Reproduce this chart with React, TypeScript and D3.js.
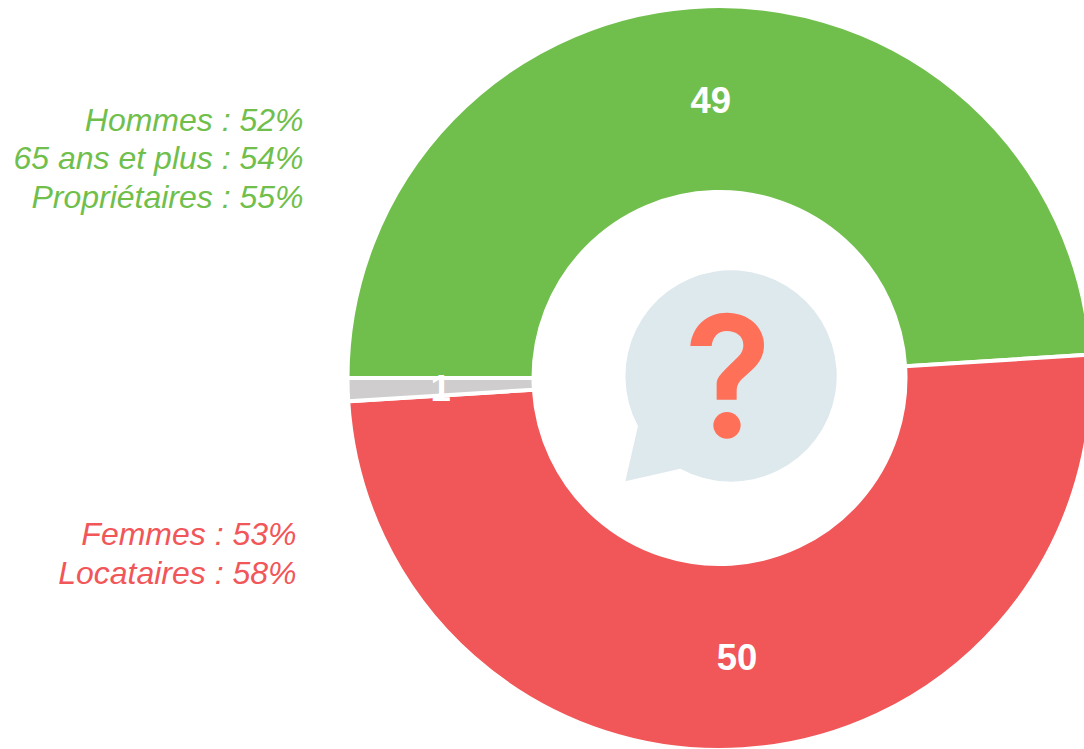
import React from "react";
import * as d3 from "d3";

const categories = ["Oui", "Non", "NSP"];
const seriesValues = [49, 50, 1];
const sliceColors = ["#70BF4C", "#F15658", "#CFCDCE"];
const greenNotes = ["Hommes : 52%", "65 ans et plus : 54%", "Propriétaires : 55%"];
const redNotes = ["Femmes : 53%", "Locataires : 58%"];

const cx = 719.5;
const cy = 378;
const outer = 372;
const inner = 186;
const labelRadius = 279;
const font = "'Liberation Sans', Arial, sans-serif";

export default function App() {
  const pie = d3
    .pie<number>()
    .sort(null)
    .startAngle(-Math.PI / 2)
    .endAngle((3 * Math.PI) / 2);
  const arc = d3.arc<d3.PieArcDatum<number>>().innerRadius(inner).outerRadius(outer);
  const labelArc = d3.arc<d3.PieArcDatum<number>>().innerRadius(labelRadius).outerRadius(labelRadius);
  const arcs = pie(seriesValues);
  return (
    <svg
      width={1084}
      height={749}
      style={{ position: "absolute", left: 0, top: 0, display: "block" }}
      fontFamily={font}
    >
      <g transform={`translate(${cx},${cy})`}>
        {arcs.map((a, i) => (
          <path key={categories[i]} d={arc(a) || ""} fill={sliceColors[i]} stroke="#fff" strokeWidth={4} />
        ))}
        {arcs.map((a, i) => {
          const [x, y] = labelArc.centroid(a);
          return (
            <text
              key={categories[i]}
              x={x}
              y={y + 1}
              dy="0.35em"
              textAnchor="middle"
              fill="#fff"
              fontWeight="bold"
              fontSize={36.5}
            >
              {a.value}
            </text>
          );
        })}
      </g>
      <g transform="translate(600,250) scale(0.3333)">
        <path
          d="M114 528 L76 694 L241 656 A 317 317 0 1 0 114 528 Z"
          fill="#DEE9ED"
        />
        <path
          d="M271 288 C277 225 325 188 380 188 C445 188 492 230 492 285 C492 325 470 348 445 370 C422 391 410 398 410 425 L410 449 L350 449 L350 405 C350 390 353 384 365 370 C380 353 400 335 413 322 C425 310 430 300 430 285 C430 258 408 243 380 243 C355 243 338 260 335 288 Z"
          fill="#FF7058"
        />
        <ellipse cx={381} cy={526} rx={41} ry={40} fill="#FF7058" />
      </g>
      {greenNotes.map((t, i) => (
        <text key={t} x={303.5} y={131 + i * 38.4} textAnchor="end" fontStyle="italic" fontSize={32} fill="#70BF4C">
          {t}
        </text>
      ))}
      {redNotes.map((t, i) => (
        <text key={t} x={296.5} y={545 + i * 39} textAnchor="end" fontStyle="italic" fontSize={32} fill="#F15658">
          {t}
        </text>
      ))}
    </svg>
  );
}
